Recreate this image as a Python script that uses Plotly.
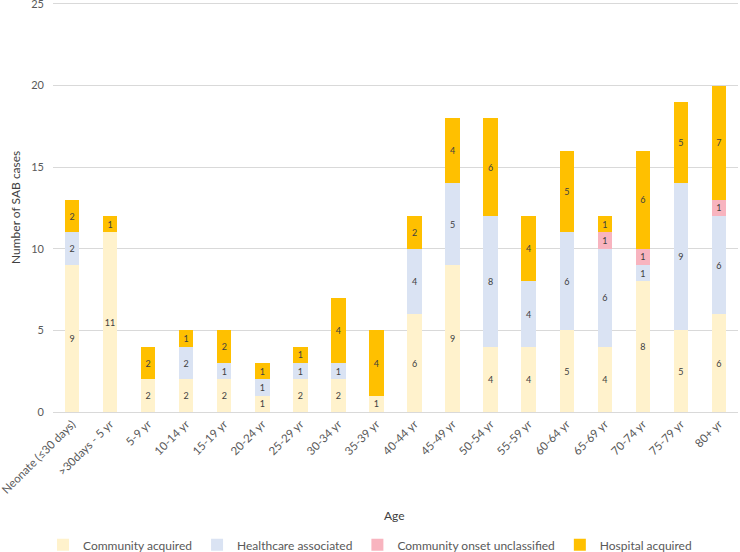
import plotly.graph_objects as go

categories = ["Neonate (≤30 days)", ">30days - 5 yr", "5-9 yr", "10-14 yr", "15-19 yr",
              "20-24 yr", "25-29 yr", "30-34 yr", "35-39 yr", "40-44 yr", "45-49 yr",
              "50-54 yr", "55-59 yr", "60-64 yr", "65-69 yr", "70-74 yr", "75-79 yr", "80+ yr"]
community_acquired = [9, 11, 2, 2, 2, 1, 2, 2, 1, 6, 9, 4, 4, 5, 4, 8, 5, 6]
healthcare_associated = [2, 0, 0, 2, 1, 1, 1, 1, 0, 4, 5, 8, 4, 6, 6, 1, 9, 6]
community_onset_unclassified = [0, 0, 0, 0, 0, 0, 0, 0, 0, 0, 0, 0, 0, 0, 1, 1, 0, 1]
hospital_acquired = [2, 1, 2, 1, 2, 1, 1, 4, 4, 2, 4, 6, 4, 5, 1, 6, 5, 7]

series = [
    ("Community acquired", community_acquired, "#FFF2CC"),
    ("Healthcare associated", healthcare_associated, "#DAE3F3"),
    ("Community onset unclassified", community_onset_unclassified, "#F8B4BF"),
    ("Hospital acquired", hospital_acquired, "#FFC000"),
]

FONT = "Lato"
fig = go.Figure()
for name, vals, color in series:
    fig.add_trace(go.Bar(
        x=categories, y=vals, name=name,
        marker=dict(color=color, line=dict(width=0)),
        text=[str(v) if v else "" for v in vals],
        textposition="inside", insidetextanchor="middle", textangle=0,
        textfont=dict(size=9, color="#404040", family=FONT),
        constraintext="none",
    ))

fig.update_layout(
    barmode="stack", bargap=0.62,
    width=740, height=552,
    margin=dict(l=53, r=2, t=0, b=140, autoexpand=False),
    plot_bgcolor="white", paper_bgcolor="white",
    font=dict(family=FONT, size=10, color="#595959"),
    showlegend=True,
    legend=dict(orientation="h", x=0.5, xref="container", xanchor="center",
                y=-0.3225, yanchor="middle", font=dict(size=12, color="#595959"),
                traceorder="normal", itemwidth=30),
    xaxis=dict(tickangle=-45, showgrid=False, showline=True, linecolor="#D9D9D9",
               tickfont=dict(size=11.5, color="#595959"), ticks="", automargin=False),
    yaxis=dict(range=[0, 25.24], tickvals=[0, 5, 10, 15, 20, 25], showgrid=True,
               gridcolor="#D9D9D9", zeroline=False,
               tickfont=dict(size=11, color="#595959"), ticks="",
               ticklabelstandoff=8, automargin=False, ticklabeloverflow="allow"),
    annotations=[
        dict(text="Number of SAB cases", xref="paper", yref="paper", x=0, y=0.5,
             yshift=-2, xshift=-38, xanchor="center", yanchor="middle", textangle=-90,
             showarrow=False, font=dict(size=12, color="#404040")),
        dict(text="Age", xref="paper", yref="paper", x=0.498, y=0, yshift=-103,
             xanchor="center", yanchor="middle", showarrow=False,
             font=dict(size=12, color="#404040")),
    ],
)

fig.write_html("out.html", config={"displayModeBar": False},
               post_script="document.body.style.margin='0';")
